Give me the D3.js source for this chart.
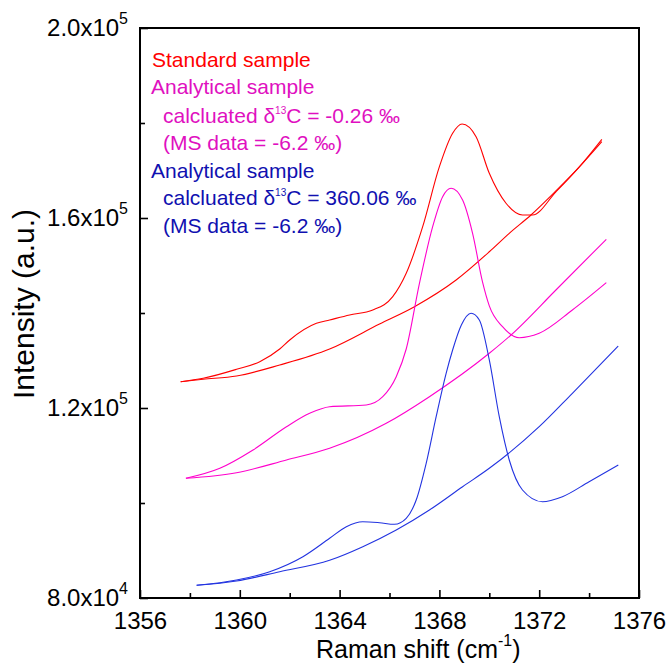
<!DOCTYPE html>
<html>
<head>
<meta charset="utf-8">
<script src="https://cdn.jsdelivr.net/npm/d3@7"></script>
<style>
  html, body { margin: 0; padding: 0; background: #fff; }
  svg { display: block; font-family: Arial, "Liberation Sans", sans-serif; }
</style>
</head>
<body>
<svg id="chart" width="667" height="663"></svg>
<script>
// Raman shift (cm^-1) vs intensity (a.u.), each sample with its fitted baseline
const standardSpectrum = [[1357.63,125540],[1358.53,126250],[1359.87,128150],[1360.8,129750],[1361.6,132420],[1362.0,134320],[1363.07,137830],[1363.6,138530],[1364.4,139580],[1365.33,140630],[1366.13,143430],[1366.67,148360],[1367.33,158170],[1368.0,170800],[1368.53,177830],[1368.91,179790],[1369.47,177120],[1370.0,169410],[1370.67,163100],[1371.33,160630],[1371.73,160630],[1372.67,165500],[1373.6,170700],[1374.51,176570]];
const standardBaseline = [[1357.63,125540],[1358.53,126040],[1359.87,126740],[1361.6,129050],[1363.6,132420],[1365.6,137680],[1367.0,141330],[1368.67,146950],[1370.0,152900],[1370.8,156780],[1371.67,160630],[1372.67,165700],[1373.6,170700],[1374.51,176060]];
const analyticalASpectrum = [[1357.84,105200],[1359.2,107310],[1360.53,111160],[1361.87,116060],[1362.8,118880],[1363.6,120270],[1365.07,120630],[1365.73,122380],[1366.27,126590],[1366.67,132420],[1367.2,146250],[1367.73,158170],[1368.13,164480],[1368.47,166250],[1368.93,163790],[1369.33,156780],[1369.73,146500],[1370.0,141500],[1370.53,137120],[1371.2,134800],[1372.0,135730],[1373.33,140630],[1374.69,146380]];
const analyticalABaseline = [[1357.84,105200],[1359.87,106380],[1361.87,109050],[1363.6,111520],[1365.87,116780],[1367.6,122380],[1370.0,131520],[1370.87,135370],[1372.67,144840],[1374.69,155520]];
const analyticalBSpectrum = [[1358.27,82670],[1359.87,83790],[1361.2,85540],[1362.53,88700],[1363.6,92570],[1364.27,95010],[1364.93,96060],[1365.6,95850],[1366.2,95520],[1366.67,96780],[1367.07,100630],[1367.47,108360],[1367.87,118170],[1368.27,127310],[1368.53,132210],[1368.88,137470],[1369.27,139940],[1369.6,138530],[1370.0,130110],[1370.4,118170],[1370.8,109050],[1371.33,102740],[1372.13,100270],[1372.93,101330],[1374.0,104480],[1375.17,108000]];
const analyticalBBaseline = [[1358.27,82670],[1359.87,83580],[1361.6,85540],[1363.6,87940],[1364.93,90800],[1366.27,94320],[1367.6,98530],[1368.93,103430],[1370.0,107310],[1372.0,116060],[1373.33,123100],[1375.17,133050]];

const xMajorTicks = [1356, 1360, 1364, 1368, 1372, 1376];
const xMinorTicks = [1358, 1362, 1366, 1370, 1374];
const yMajorTicks = [80000, 120000, 160000, 200000];
const yMinorTicks = [100000, 140000, 180000];
const yTickMantissa = ["8.0", "1.2", "1.6", "2.0"];
const yTickExponent = ["4", "5", "5", "5"];

const RED = "#ff0000", MAGENTA = "#ff00cc", BLUE = "#2233e0";
const MAGENTA_TEXT = "#e010c0", BLUE_TEXT = "#1010b0";

const series = [
  { data: standardSpectrum, color: RED },
  { data: standardBaseline, color: RED },
  { data: analyticalASpectrum, color: MAGENTA },
  { data: analyticalABaseline, color: MAGENTA },
  { data: analyticalBSpectrum, color: BLUE },
  { data: analyticalBBaseline, color: BLUE }
];

const svg = d3.select("#chart");
const plotLeft = 140, plotRight = 639, plotTop = 28, plotBottom = 598;

const x = d3.scaleLinear().domain([1356, 1376]).range([plotLeft, plotRight]);
const y = d3.scaleLinear().domain([80000, 200000]).range([plotBottom, plotTop]);

// curves
const line = d3.line().x(d => x(d[0])).y(d => y(d[1])).curve(d3.curveMonotoneX);
svg.append("g").selectAll("path").data(series).join("path")
  .attr("d", d => line(d.data))
  .attr("fill", "none")
  .attr("stroke", d => d.color)
  .attr("stroke-width", 1.1);

// x axis (ticks pointing inward)
svg.append("g").attr("transform", `translate(0,${plotBottom})`)
  .call(d3.axisBottom(x).tickValues(xMajorTicks).tickSize(-8).tickPadding(14).tickFormat(d3.format("d")));
svg.append("g").attr("transform", `translate(0,${plotBottom})`)
  .call(d3.axisBottom(x).tickValues(xMinorTicks).tickSize(-5).tickFormat(""));

// y axis
const yAxis = svg.append("g").attr("transform", `translate(${plotLeft},0)`)
  .call(d3.axisLeft(y).tickValues(yMajorTicks).tickSize(-8).tickPadding(12).tickFormat(""));
svg.append("g").attr("transform", `translate(${plotLeft},0)`)
  .call(d3.axisLeft(y).tickValues(yMinorTicks).tickSize(-5).tickFormat(""));

yAxis.selectAll(".tick text").each(function(d, i) {
  const t = d3.select(this);
  t.append("tspan").text(yTickMantissa[i] + "x10");
  t.append("tspan").attr("dy", -12).attr("font-size", 16).text(yTickExponent[i]);
});

svg.selectAll(".domain").remove();
svg.selectAll(".tick line").attr("stroke", "#000").attr("stroke-width", 1.6);
svg.selectAll(".tick text").attr("font-size", 24).attr("fill", "#000")
  .attr("font-family", "Arial, 'Liberation Sans', sans-serif");

// frame
svg.append("rect")
  .attr("x", plotLeft).attr("y", plotTop)
  .attr("width", plotRight - plotLeft).attr("height", plotBottom - plotTop)
  .attr("fill", "none").attr("stroke", "#000").attr("stroke-width", 2);

// axis titles
const xTitle = svg.append("text").attr("x", 316).attr("y", 657.5)
  .attr("font-size", 25).attr("fill", "#000");
xTitle.append("tspan").text("Raman shift (cm");
xTitle.append("tspan").attr("dy", -12).attr("font-size", 16).text("-1");
xTitle.append("tspan").attr("dy", 12).text(")");

svg.append("text")
  .attr("transform", "translate(34,304) rotate(-90)")
  .attr("text-anchor", "middle")
  .attr("font-size", 30).attr("fill", "#000")
  .text("Intensity (a.u.)");

// legend / annotation block
const legend = svg.append("g").attr("font-size", 21);
legend.append("text").attr("x", 152).attr("y", 67).attr("fill", RED).text("Standard sample");
legend.append("text").attr("x", 151).attr("y", 94).attr("fill", MAGENTA_TEXT).text("Analytical sample");

function deltaLine(xp, yp, color, value) {
  const t = legend.append("text").attr("x", xp).attr("y", yp).attr("fill", color);
  t.append("tspan").text("calcluated \u03B4");
  t.append("tspan").attr("dy", -9).attr("font-size", 10).text("13");
  t.append("tspan").attr("dy", 9).text("C = " + value + " \u2030");
}
deltaLine(163, 123, MAGENTA_TEXT, "-0.26");
legend.append("text").attr("x", 163).attr("y", 150).attr("fill", MAGENTA_TEXT).text("(MS data = -6.2 \u2030)");
legend.append("text").attr("x", 151).attr("y", 178).attr("fill", BLUE_TEXT).text("Analytical sample");
deltaLine(163, 205, BLUE_TEXT, "360.06");
legend.append("text").attr("x", 163).attr("y", 233).attr("fill", BLUE_TEXT).text("(MS data = -6.2 \u2030)");
</script>
</body>
</html>
